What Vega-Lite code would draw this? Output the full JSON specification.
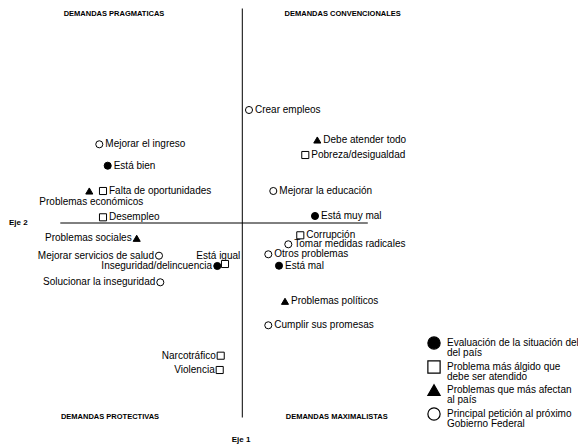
{
  "$schema": "https://vega.github.io/schema/vega-lite/v6.json",
  "width": 578,
  "height": 447,
  "autosize": {"type": "none"},
  "padding": 0,
  "background": "white",
  "config": {"view": {"stroke": null}, "text": {"font": "Liberation Sans"}, "style": {"guide-label": {"lineHeight": 9.5}}},
  "datasets": {
    "pts": [
      {"item": "Está bien", "tipo": "Evaluación de la situación del del país", "eje1": -1.346, "eje2": 0.568},
      {"item": "Está igual", "tipo": "Evaluación de la situación del del país", "eje1": -0.25, "eje2": -0.435},
      {"item": "Está muy mal", "tipo": "Evaluación de la situación del del país", "eje1": 0.727, "eje2": 0.065},
      {"item": "Está mal", "tipo": "Evaluación de la situación del del país", "eje1": 0.367, "eje2": -0.432},
      {"item": "Falta de oportunidades", "tipo": "Problema más álgido que debe ser atendido", "eje1": -1.393, "eje2": 0.315},
      {"item": "Desempleo", "tipo": "Problema más álgido que debe ser atendido", "eje1": -1.393, "eje2": 0.052},
      {"item": "Inseguridad/delincuencia", "tipo": "Problema más álgido que debe ser atendido", "eje1": -0.173, "eje2": -0.415},
      {"item": "Pobreza/desigualdad", "tipo": "Problema más álgido que debe ser atendido", "eje1": 0.63, "eje2": 0.675},
      {"item": "Corrupción", "tipo": "Problema más álgido que debe ser atendido", "eje1": 0.58, "eje2": -0.128},
      {"item": "Narcotráfico", "tipo": "Problema más álgido que debe ser atendido", "eje1": -0.216, "eje2": -1.332},
      {"item": "Violencia", "tipo": "Problema más álgido que debe ser atendido", "eje1": -0.226, "eje2": -1.475},
      {"item": "Problemas económicos", "tipo": "Problemas que más afectan al país", "eje1": -1.53, "eje2": 0.315},
      {"item": "Problemas sociales", "tipo": "Problemas que más afectan al país", "eje1": -1.056, "eje2": -0.158},
      {"item": "Debe atender todo", "tipo": "Problemas que más afectan al país", "eje1": 0.75, "eje2": 0.825},
      {"item": "Problemas políticos", "tipo": "Problemas que más afectan al país", "eje1": 0.427, "eje2": -0.788},
      {"item": "Mejorar el ingreso", "tipo": "Principal petición al próximo Gobierno Federal", "eje1": -1.43, "eje2": 0.782},
      {"item": "Mejorar servicios de salud", "tipo": "Principal petición al próximo Gobierno Federal", "eje1": -0.833, "eje2": -0.332},
      {"item": "Solucionar la inseguridad", "tipo": "Principal petición al próximo Gobierno Federal", "eje1": -0.82, "eje2": -0.598},
      {"item": "Crear empleos", "tipo": "Principal petición al próximo Gobierno Federal", "eje1": 0.067, "eje2": 1.125},
      {"item": "Mejorar la educación", "tipo": "Principal petición al próximo Gobierno Federal", "eje1": 0.31, "eje2": 0.315},
      {"item": "Tomar medidas radicales", "tipo": "Principal petición al próximo Gobierno Federal", "eje1": 0.46, "eje2": -0.218},
      {"item": "Otros problemas", "tipo": "Principal petición al próximo Gobierno Federal", "eje1": 0.26, "eje2": -0.318},
      {"item": "Cumplir sus promesas", "tipo": "Principal petición al próximo Gobierno Federal", "eje1": 0.26, "eje2": -1.028}
    ],
    "ejes": [
      {"eje1": 0, "eje1b": 0, "eje2": 2.14, "eje2b": -1.95},
      {"eje1": -1.82, "eje1b": 1.255, "eje2": -0.005, "eje2b": -0.005}
    ],
    "notes": [
      {"text": "DEMANDAS PRAGMATICAS", "eje1": -1.283, "eje2": 2.085},
      {"text": "DEMANDAS CONVENCIONALES", "eje1": 1.004, "eje2": 2.085},
      {"text": "DEMANDAS PROTECTIVAS", "eje1": -1.323, "eje2": -1.942},
      {"text": "DEMANDAS MAXIMALISTAS", "eje1": 0.944, "eje2": -1.942}
    ],
    "axes": [
      {"text": "Eje 1", "eje1": -0.013, "eje2": -2.175},
      {"text": "Eje 2", "eje1": -2.24, "eje2": -0.008}
    ]
  },
  "encoding": {
    "x": {"field": "eje1", "type": "quantitative", "scale": {"domain": [-2.423, 3.357], "nice": false, "zero": false}, "axis": null},
    "y": {"field": "eje2", "type": "quantitative", "scale": {"domain": [-2.245, 2.225], "nice": false, "zero": false}, "axis": null}
  },
  "layer": [
    {
      "data": {"name": "ejes"},
      "mark": {"type": "rule", "color": "black", "strokeWidth": 1},
      "encoding": {"x2": {"field": "eje1b"}, "y2": {"field": "eje2b"}}
    },
    {
      "data": {"name": "pts"},
      "mark": {"type": "point", "strokeWidth": 1, "opacity": 1, "size": 50},
      "encoding": {
        "shape": {"field": "tipo", "type": "nominal", "scale": {"domain": ["Evaluación de la situación del del país", "Problema más álgido que debe ser atendido", "Problemas que más afectan al país", "Principal petición al próximo Gobierno Federal"], "range": ["circle", "square", "triangle-up", "circle"]},
          "legend": {"orient": "none", "legendX": 427, "legendY": 336, "title": null, "symbolSize": 150, "symbolStrokeWidth": 1.2, "labelFontSize": 10, "labelFont": "Liberation Sans", "labelColor": "black", "labelOffset": 6, "rowPadding": 0, "labelLimit": 200,
            "labelExpr": "datum.label == 'Evaluación de la situación del del país' ? ['Evaluación de la situación del', 'del país'] : datum.label == 'Problema más álgido que debe ser atendido' ? ['Problema más álgido que', 'debe ser atendido'] : datum.label == 'Problemas que más afectan al país' ? ['Problemas que más afectan', 'al país'] : ['Principal petición al próximo', 'Gobierno Federal']"}},
        "fill": {"field": "tipo", "type": "nominal", "scale": {"domain": ["Evaluación de la situación del del país", "Problema más álgido que debe ser atendido", "Problemas que más afectan al país", "Principal petición al próximo Gobierno Federal"], "range": ["black", "white", "black", "white"]}},
        "stroke": {"field": "tipo", "type": "nominal", "scale": {"domain": ["Evaluación de la situación del del país", "Problema más álgido que debe ser atendido", "Problemas que más afectan al país", "Principal petición al próximo Gobierno Federal"], "range": ["black", "black", "black", "black"]}}
      }
    },
    {
      "data": {"name": "pts"},
      "transform": [{"filter": {"not": {"field": "item", "oneOf": ["Problemas sociales", "Mejorar servicios de salud", "Solucionar la inseguridad", "Narcotráfico", "Violencia", "Inseguridad/delincuencia", "Problemas económicos", "Está igual"]}}}],
      "mark": {"type": "text", "align": "left", "baseline": "middle", "dx": 6, "fontSize": 10, "color": "black"},
      "encoding": {"text": {"field": "item"}}
    },
    {
      "data": {"name": "pts"},
      "transform": [{"filter": {"field": "item", "oneOf": ["Problemas sociales", "Mejorar servicios de salud", "Solucionar la inseguridad", "Narcotráfico", "Violencia"]}}],
      "mark": {"type": "text", "align": "right", "baseline": "middle", "dx": -5, "fontSize": 10, "color": "black"},
      "encoding": {"text": {"field": "item"}}
    },
    {
      "data": {"name": "pts"},
      "transform": [{"filter": {"field": "item", "equal": "Inseguridad/delincuencia"}}],
      "mark": {"type": "text", "align": "right", "baseline": "middle", "dx": -13, "dy": 2, "fontSize": 10, "color": "black"},
      "encoding": {"text": {"field": "item"}}
    },
    {
      "data": {"name": "pts"},
      "transform": [{"filter": {"field": "item", "equal": "Problemas económicos"}}],
      "mark": {"type": "text", "align": "center", "baseline": "middle", "dx": 2, "dy": 11, "fontSize": 10, "color": "black"},
      "encoding": {"text": {"field": "item"}}
    },
    {
      "data": {"name": "pts"},
      "transform": [{"filter": {"field": "item", "equal": "Está igual"}}],
      "mark": {"type": "text", "align": "center", "baseline": "middle", "dx": 1, "dy": -10, "fontSize": 10, "color": "black"},
      "encoding": {"text": {"field": "item"}}
    },
    {
      "data": {"name": "notes"},
      "mark": {"type": "text", "align": "center", "baseline": "middle", "fontSize": 7.5, "fontWeight": "bold", "color": "black"},
      "encoding": {"text": {"field": "text"}}
    },
    {
      "data": {"name": "axes"},
      "mark": {"type": "text", "align": "center", "baseline": "middle", "fontSize": 8, "fontWeight": "bold", "color": "black"},
      "encoding": {"text": {"field": "text"}}
    }
  ]
}
